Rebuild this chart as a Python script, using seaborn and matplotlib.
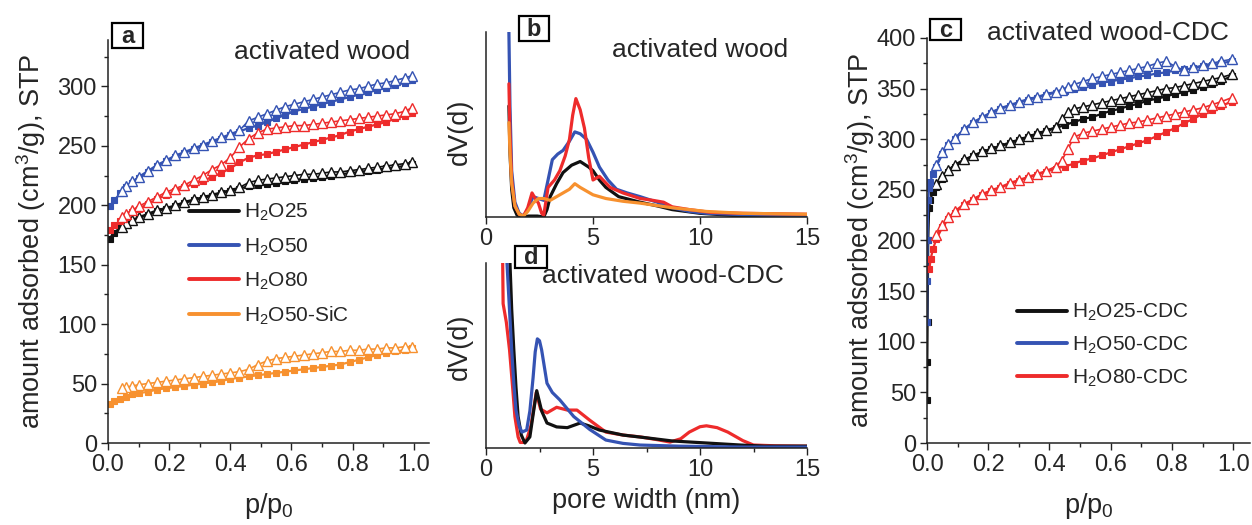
import numpy as np
import pandas as pd
import matplotlib
matplotlib.use("Agg")
import matplotlib.pyplot as plt
import seaborn as sns
from matplotlib.lines import Line2D
from matplotlib.patches import Rectangle
from matplotlib.ticker import MultipleLocator

# ---------------- data: panel a (activated wood isotherms) ----------------
p_a_ads = [0.005, 0.02, 0.04, 0.06, 0.08, 0.10, 0.13, 0.16, 0.19, 0.22, 0.25, 0.28,
           0.31, 0.34, 0.37, 0.40, 0.43, 0.46, 0.49, 0.52, 0.55, 0.58, 0.61, 0.64,
           0.67, 0.70, 0.73, 0.76, 0.79, 0.82, 0.85, 0.88, 0.91, 0.94, 0.97, 0.995]
p_a_des = [0.995, 0.97, 0.94, 0.91, 0.88, 0.85, 0.82, 0.79, 0.76, 0.73, 0.70, 0.67,
           0.64, 0.61, 0.58, 0.55, 0.52, 0.49, 0.46, 0.43, 0.40, 0.37, 0.34, 0.31,
           0.28, 0.25, 0.22, 0.19, 0.16, 0.13, 0.10, 0.08, 0.06, 0.045]

h25_ads = [172, 177, 181, 184, 187, 189, 192, 195, 197, 199, 202, 204, 206, 208, 210, 212,
           214, 216, 217, 218, 219, 220, 221, 222, 223, 224, 225, 226, 227, 228, 229, 230,
           231, 232, 233, 235]
h25_des = [236, 235, 234, 233, 232, 231, 230, 229, 228, 228, 227, 226, 226, 225, 224, 223,
           222, 221, 219, 215, 213, 211, 209, 207, 205, 203, 200, 198, 196, 193, 190, 188,
           185, 182]
h50_ads = [199, 204, 210, 215, 219, 223, 228, 233, 237, 241, 244, 247, 250, 253, 256, 259,
           262, 265, 267, 270, 273, 276, 279, 281, 283, 285, 287, 289, 291, 293, 295, 297,
           299, 301, 303, 305]
h50_des = [309, 307, 305, 303, 302, 300, 298, 297, 295, 293, 291, 289, 287, 285, 283, 280,
           277, 274, 271, 263, 260, 257, 254, 251, 248, 245, 242, 238, 234, 229, 224, 220,
           216, 212]
h80_ads = [179, 183, 187, 190, 194, 197, 201, 205, 209, 212, 215, 218, 220, 224, 227, 231,
           236, 240, 242, 243, 245, 247, 249, 251, 253, 255, 257, 259, 262, 264, 266, 268,
           270, 273, 275, 278]
h80_des = [282, 279, 277, 276, 275, 274, 273, 272, 271, 270, 269, 268, 267, 267, 266, 265,
           264, 261, 256, 249, 240, 234, 230, 225, 221, 217, 214, 211, 207, 203, 199, 196,
           193, 190]
sic_ads = [33, 35, 37, 39, 41, 42, 43, 45, 46, 47, 48, 49, 50, 51, 52, 54, 55, 56, 57, 58,
           59, 60, 61, 62, 63, 64, 65, 66, 68, 70, 72, 74, 76, 77, 78, 80]
sic_des = [81, 81, 80, 80, 79, 79, 78, 78, 77, 77, 76, 75, 74, 73, 72, 71, 69, 66, 62, 60,
           59, 58, 57, 56, 55, 54, 53, 52, 51, 50, 49, 48, 47, 46]

# ---------------- data: panel c (activated wood-CDC isotherms) ----------------
p_c_ads = [0.0005, 0.001, 0.002, 0.004, 0.007, 0.01, 0.02, 0.03, 0.05, 0.07, 0.09, 0.12,
           0.15, 0.18, 0.21, 0.24, 0.27, 0.30, 0.33, 0.36, 0.39, 0.42, 0.45, 0.48, 0.51,
           0.54, 0.57, 0.60, 0.63, 0.66, 0.69, 0.72, 0.75, 0.78, 0.81, 0.84, 0.87, 0.90,
           0.93, 0.96, 0.995]
p_c_ads_red = [0.008, 0.012, 0.02, 0.03, 0.05, 0.07, 0.09, 0.12, 0.15, 0.18, 0.21, 0.24,
               0.27, 0.30, 0.33, 0.36, 0.39, 0.42, 0.45, 0.48, 0.51, 0.54, 0.57, 0.60,
               0.63, 0.66, 0.69, 0.72, 0.75, 0.78, 0.81, 0.84, 0.87, 0.90, 0.93, 0.96, 0.995]
p_c_des = [0.995, 0.96, 0.93, 0.90, 0.87, 0.84, 0.81, 0.78, 0.75, 0.72, 0.69, 0.66, 0.63,
           0.60, 0.57, 0.54, 0.51, 0.48, 0.46, 0.44, 0.42, 0.39, 0.36, 0.33, 0.30, 0.27,
           0.24, 0.21, 0.18, 0.15, 0.12, 0.09, 0.07, 0.05, 0.03]

c25_ads = [42, 80, 120, 200, 232, 240, 248, 253, 261, 268, 273, 279, 283, 287, 290, 293,
           296, 299, 302, 305, 308, 311, 314, 317, 320, 322, 325, 328, 330, 333, 335, 338,
           340, 342, 345, 347, 349, 352, 355, 358, 362]
c25_des = [364, 361, 359, 357, 355, 353, 351, 350, 348, 346, 344, 342, 340, 338, 336, 334,
           332, 330, 327, 320, 312, 309, 306, 303, 300, 297, 294, 291, 288, 284, 280, 275,
           270, 264, 256]
c50_ads = [120, 160, 200, 240, 252, 258, 266, 273, 285, 294, 300, 309, 316, 321, 326, 330,
           333, 336, 339, 341, 344, 346, 348, 350, 352, 354, 356, 357, 359, 360, 362, 363,
           365, 366, 368, 369, 370, 372, 373, 375, 377]
c50_des = [379, 377, 375, 373, 371, 368, 372, 377, 375, 372, 370, 368, 366, 364, 362, 360,
           357, 354, 352, 349, 347, 345, 342, 340, 337, 334, 331, 327, 322, 317, 310, 301,
           295, 287, 275]
c80_ads = [172, 182, 192, 201, 213, 221, 227, 235, 240, 245, 249, 252, 256, 259, 262, 265,
           268, 271, 273, 276, 279, 281, 284, 287, 290, 293, 296, 299, 303, 307, 311, 316,
           320, 325, 329, 333, 337]
c80_des = [341, 337, 334, 331, 329, 327, 325, 323, 321, 319, 317, 316, 314, 312, 310, 308,
           306, 302, 290, 279, 273, 269, 266, 263, 260, 257, 253, 250, 246, 241, 236, 229,
           223, 215, 205]

# ---------------- data: panel b (pore size distributions, activated wood) ----------------
b25_d = [1.07, 1.12, 1.2, 1.3, 1.45, 1.7, 2.0, 2.4, 2.7, 2.85, 3.0, 3.3, 3.6, 4.0, 4.4,
         4.8, 5.0, 5.3, 5.6, 6.2, 7.2, 8.0, 8.7, 10, 12, 15]
b25_v = [60, 35, 15, 5, 1, 0, 0.5, 0.5, 0, 4, 11, 18, 24, 28, 30, 27, 25, 20, 16, 11, 8,
         6, 4, 2, 0.5, 0]
b50_d = [1.07, 1.12, 1.2, 1.35, 1.55, 1.75, 1.95, 2.2, 2.45, 2.7, 2.9, 3.1, 3.35, 3.6,
         3.9, 4.15, 4.4, 4.7, 5.0, 5.3, 5.7, 6.1, 6.6, 7.2, 8.0, 8.7, 9.5, 10.3, 11.5, 13, 15]
b50_v = [100, 60, 25, 8, 2, 0.5, 4, 11, 10, 9, 20, 31, 34, 36, 41, 46, 45, 42, 35, 27, 20,
         15, 13, 11, 8, 5, 3, 2, 1.5, 1, 0.5]
b80_d = [1.07, 1.12, 1.2, 1.35, 1.55, 1.75, 1.95, 2.15, 2.3, 2.45, 2.6, 2.7, 2.9, 3.2,
         3.45, 3.7, 3.9, 4.05, 4.2, 4.4, 4.6, 4.8, 5.0, 5.3, 5.8, 6.4, 7.2, 7.8, 8.3, 8.7,
         9.5, 10.5, 12, 15]
b80_v = [72, 45, 20, 6, 1.5, 0.5, 5, 13, 10, 7.5, 2, 1, 16, 20, 25, 33, 42, 55, 64, 58,
         48, 32, 20, 22, 16, 13, 10, 9, 8, 5.5, 4, 2.5, 2, 1.5]
bsic_d = [1.07, 1.12, 1.2, 1.35, 1.55, 1.75, 1.95, 2.2, 2.45, 2.7, 3.0, 3.3, 3.6, 3.9,
          4.15, 4.4, 4.7, 5.0, 5.6, 6.4, 7.2, 8.7, 10.3, 12, 15]
bsic_v = [51, 35, 18, 6, 1.5, 0.5, 3, 7.5, 10, 10, 9, 11, 13, 15, 18, 16, 14, 12, 10, 8.5,
          7.5, 5, 3, 2, 1.5]

# ---------------- data: panel d (pore size distributions, activated wood-CDC) ----------------
d25_d = [1.12, 1.2, 1.3, 1.4, 1.5, 1.65, 1.82, 2.05, 2.2, 2.37, 2.6, 2.85, 3.3, 3.8, 4.4,
         4.8, 5.3, 6.4, 7.5, 8.7, 10.3, 11.9, 13, 15]
d25_v = [100, 75, 53, 33, 17, 7, 2.7, 6, 18, 31, 20, 13.5, 11.4, 11, 13.5, 12, 9.7, 7,
         5.5, 3.8, 2.7, 1.6, 1, 1]
d50_d = [0.98, 1.05, 1.2, 1.3, 1.4, 1.55, 1.68, 1.9, 2.05, 2.2, 2.3, 2.4, 2.5, 2.6, 2.85,
         3.1, 3.45, 4.1, 4.85, 5.6, 6.4, 7.2, 9, 12, 15]
d50_v = [100, 85, 53, 35, 20.5, 12, 8.6, 9.7, 20, 38, 52, 59, 58, 53, 35, 30, 26, 17, 10,
         4.3, 2.5, 1.6, 1, 0.5, 0.5]
d80_d = [0.78, 0.8, 0.95, 1.1, 1.25, 1.35, 1.5, 1.6, 1.75, 1.9, 2.1, 2.35, 2.55, 2.85,
         3.3, 3.8, 4.25, 4.85, 5.6, 6.4, 7.2, 8.0, 8.6, 9.1, 9.5, 10.0, 10.3, 10.8, 11.3,
         12.0, 12.5, 13.5, 15]
d80_v = [100, 78, 68, 53, 32, 17, 6, 3, 3, 4.5, 12, 30, 21, 19, 22, 20.5, 20.5, 15, 8.6,
         7, 6, 4.5, 3.2, 5, 8.6, 11.5, 12, 11, 8.6, 4, 1.6, 1.2, 1]

labels_a = ["H$_2$O25", "H$_2$O50", "H$_2$O80", "H$_2$O50-SiC"]
labels_c = ["H$_2$O25-CDC", "H$_2$O50-CDC", "H$_2$O80-CDC"]

# ---------------- style ----------------
BLACK, BLUE, RED, ORANGE = "#111111", "#3553b3", "#ee2b2b", "#f7912f"

sns.set_style("ticks")
plt.rcParams["font.family"] = ["Liberation Sans", "DejaVu Sans"]
plt.rcParams["mathtext.fontset"] = "custom"
plt.rcParams["mathtext.rm"] = "Liberation Sans"
plt.rcParams["mathtext.it"] = "Liberation Sans:italic"
plt.rcParams["mathtext.default"] = "regular"

W, H = 1252, 525
fig = plt.figure(figsize=(W / 100, H / 100), dpi=100)


def ax_px(l, t, r, b):
    return fig.add_axes([l / W, 1 - b / H, (r - l) / W, (b - t) / H])


def style_axes(ax, ytick=True):
    for s in ["top", "right"]:
        ax.spines[s].set_visible(False)
    for s in ["left", "bottom"]:
        ax.spines[s].set_linewidth(1.1)
        ax.spines[s].set_color("#222222")
    ax.tick_params(axis="both", which="major", direction="out", length=5, width=1,
                   labelsize=17, color="#222222", pad=3)
    ax.tick_params(axis="both", which="minor", direction="out", length=3, width=1,
                   color="#222222")
    if not ytick:
        ax.set_yticks([])
    ax.set_facecolor("white")


def iso(ax, p, v, color, ads):
    if ads:
        sns.lineplot(x=p, y=v, ax=ax, color=color, marker="s", markersize=5,
                     markeredgecolor=color, markeredgewidth=0.8, linewidth=1.6,
                     estimator=None, sort=False, legend=False)
    else:
        sns.lineplot(x=p, y=v, ax=ax, color=color, marker="^", markersize=7,
                     markerfacecolor="white", markeredgecolor=color, markeredgewidth=1.0,
                     linewidth=1.2, estimator=None, sort=False, legend=False)


def psd(ax, d, v, color):
    sns.lineplot(x=d, y=v, ax=ax, color=color, linewidth=2.3, estimator=None,
                 sort=False, legend=False)


def boxlabel(l, t, r, b, s):
    fig.patches.append(Rectangle((l / W, 1 - b / H), (r - l) / W, (b - t) / H,
                                 transform=fig.transFigure, fc="white", ec="black",
                                 lw=1.6, zorder=5))
    fig.text((l + r) / 2 / W, 1 - ((t + b) / 2 + 1) / H, s, ha="center", va="center",
             fontsize=17, fontweight="bold", zorder=6)


# ---------------- panel a ----------------
axa = ax_px(108, 40, 429, 443)
style_axes(axa)
for ads, des, col in [(h25_ads, h25_des, BLACK), (h50_ads, h50_des, BLUE),
                      (h80_ads, h80_des, RED), (sic_ads, sic_des, ORANGE)]:
    iso(axa, p_a_ads, ads, col, True)
    iso(axa, p_a_des, des, col, False)
axa.set_xlim(0, 1.05)
axa.set_ylim(0, 339)
axa.set_xticks([0, 0.2, 0.4, 0.6, 0.8, 1.0])
axa.xaxis.set_minor_locator(MultipleLocator(0.1))
axa.set_yticks(range(0, 301, 50))
axa.yaxis.set_minor_locator(MultipleLocator(25))
axa.set_xlabel("p/p$_0$", fontsize=19.5, labelpad=11)
axa.set_ylabel("amount adsorbed (cm$^3$/g), STP", fontsize=19.5, labelpad=7)
handles_a = [Line2D([], [], color=c, lw=2.8) for c in [BLACK, BLUE, RED, ORANGE]]
axa.legend(handles_a, labels_a, loc="upper left", bbox_to_anchor=(189 / W, 1 - 202 / H),
           bbox_transform=fig.transFigure, frameon=False, fontsize=15,
           handlelength=2.4, handletextpad=0.25, labelspacing=0.62, borderpad=0,
           borderaxespad=0)

# ---------------- panel b ----------------
axb = ax_px(486, 32, 807, 217)
style_axes(axb, ytick=False)
for d, v, col in [(b25_d, b25_v, BLACK), (b50_d, b50_v, BLUE), (b80_d, b80_v, RED),
                  (bsic_d, bsic_v, ORANGE)]:
    psd(axb, d, v, col)
axb.set_xlim(0, 15)
axb.set_ylim(0, 100)
axb.set_xticks([0, 5, 10, 15])
axb.set_xlabel("")
axb.set_ylabel("")

# ---------------- panel d ----------------
axd = ax_px(486, 263, 807, 448)
style_axes(axd, ytick=False)
for d, v, col in [(d80_d, d80_v, RED), (d25_d, d25_v, BLACK), (d50_d, d50_v, BLUE)]:
    psd(axd, d, v, col)
axd.set_xlim(0, 15)
axd.set_ylim(0, 100)
axd.set_xticks([0, 5, 10, 15])
axd.xaxis.set_minor_locator(MultipleLocator(2.5))
axd.set_ylabel("")
axd.set_xlabel("pore width (nm)", fontsize=19.5, labelpad=5)

# ---------------- panel c ----------------
axc = ax_px(927, 38, 1250, 443)
style_axes(axc)
for p_ads, ads, des, col in [(p_c_ads, c25_ads, c25_des, BLACK),
                             (p_c_ads, c50_ads, c50_des, BLUE),
                             (p_c_ads_red, c80_ads, c80_des, RED)]:
    iso(axc, p_ads, ads, col, True)
    iso(axc, p_c_des, des, col, False)
axc.set_xlim(0, 1.055)
axc.set_ylim(0, 400)
axc.set_xticks([0, 0.2, 0.4, 0.6, 0.8, 1.0])
axc.xaxis.set_minor_locator(MultipleLocator(0.1))
axc.set_yticks(range(0, 401, 50))
axc.yaxis.set_minor_locator(MultipleLocator(25))
axc.set_xlabel("p/p$_0$", fontsize=19.5, labelpad=11)
axc.set_ylabel("amount adsorbed (cm$^3$/g), STP", fontsize=19.5, labelpad=0)
handles_c = [Line2D([], [], color=c, lw=2.8) for c in [BLACK, BLUE, RED]]
axc.legend(handles_c, labels_c, loc="upper left", bbox_to_anchor=(1017 / W, 1 - 302 / H),
           bbox_transform=fig.transFigure, frameon=False, fontsize=15,
           handlelength=2.4, handletextpad=0.25, labelspacing=0.55, borderpad=0,
           borderaxespad=0)

# ---------------- annotations ----------------
fig.text(460 / W, 1 - 132 / H, "dV(d)", rotation=90, ha="center", va="center",
         fontsize=19.5)
fig.text(460 / W, 1 - 347 / H, "dV(d)", rotation=90, ha="center", va="center",
         fontsize=19.5)
fig.text(322 / W, 1 - 52 / H, "activated wood", ha="center", va="center", fontsize=19)
fig.text(700 / W, 1 - 50 / H, "activated wood", ha="center", va="center", fontsize=19)
fig.text(663 / W, 1 - 276 / H, "activated wood-CDC", ha="center", va="center", fontsize=19)
fig.text(1108 / W, 1 - 33 / H, "activated wood-CDC", ha="center", va="center", fontsize=19)
boxlabel(112, 23, 143, 48, "a")
boxlabel(519, 16, 549, 41, "b")
boxlabel(930, 19, 961, 40, "c")
boxlabel(515, 246, 547, 268, "d")

fig.savefig("out.png", dpi=100, facecolor="white")
